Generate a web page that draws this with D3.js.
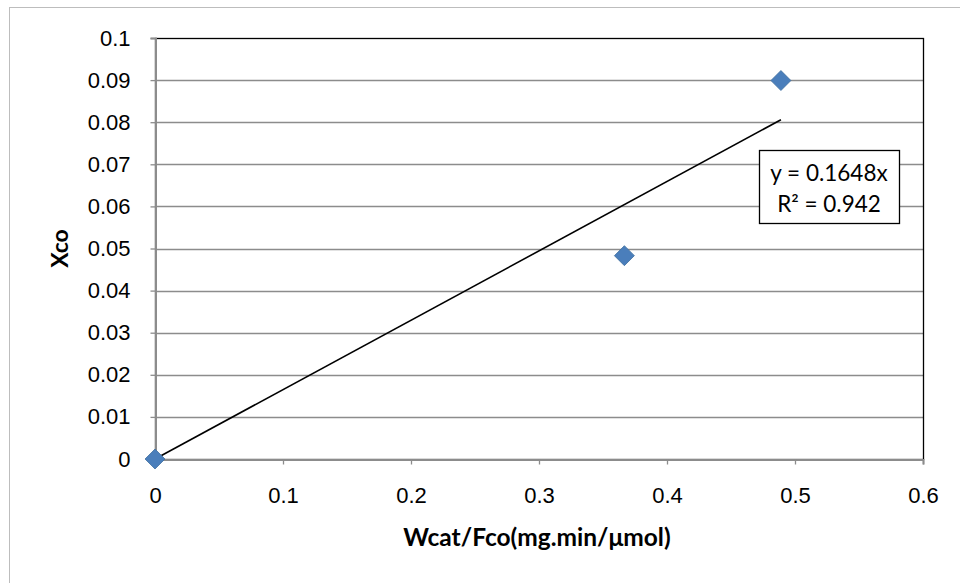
<!DOCTYPE html>
<html>
<head>
<meta charset="utf-8">
<script src="https://cdn.jsdelivr.net/npm/d3@7"></script>
<style>
  html, body { margin: 0; padding: 0; background: #fff; }
  svg { display: block; font-family: Lato, "Open Sans", "Liberation Sans", sans-serif; }
</style>
</head>
<body>
<svg id="chart" width="960" height="583"></svg>
<script>
// Measured conversion of CO versus catalyst weight / CO flow
const xValues = [0, 0.3667, 0.489];
const yValues = [0, 0.0483, 0.0899];
const xTicks = [0, 0.1, 0.2, 0.3, 0.4, 0.5, 0.6];
const yTicks = [0, 0.01, 0.02, 0.03, 0.04, 0.05, 0.06, 0.07, 0.08, 0.09, 0.1];
const slope = 0.1648;
const rSquared = 0.942;
const xTitle = "Wcat/Fco(mg.min/\u03BCmol)";
const yTitle = "Xco";

const svg = d3.select("#chart");
const plot = { left: 155, right: 923, top: 38, bottom: 459 };
const labelSize = 22;

const x = d3.scaleLinear().domain([0, 0.6]).range([plot.left, plot.right]);
const y = d3.scaleLinear().domain([0, 0.1]).range([plot.bottom, plot.top]);

// outer chart frame
svg.append("rect")
  .attr("x", 9.5).attr("y", 7.5)
  .attr("width", 1000).attr("height", 1000)
  .attr("fill", "none").attr("stroke", "#bdbdbd").attr("stroke-width", 1);

// horizontal gridlines
svg.append("g")
  .selectAll("line")
  .data(yTicks.slice(1, -1))
  .join("line")
  .attr("x1", plot.left).attr("x2", plot.right)
  .attr("y1", d => Math.round(y(d)) + 0.5).attr("y2", d => Math.round(y(d)) + 0.5)
  .attr("stroke", "#8c8c8c").attr("stroke-width", 1.3);

// plot area border (top / right)
svg.append("rect")
  .attr("x", plot.left + 0.5).attr("y", plot.top + 0.5)
  .attr("width", plot.right - plot.left).attr("height", plot.bottom - plot.top)
  .attr("fill", "none").attr("stroke", "#000").attr("stroke-width", 1.3);

// y axis
const yAxis = svg.append("g")
  .attr("transform", `translate(${plot.left + 0.5},0)`)
  .call(d3.axisLeft(y).tickValues(yTicks).tickSize(5).tickPadding(20)
    .tickFormat(d => d3.format("~g")(+d.toFixed(2))));
yAxis.select(".domain").attr("stroke", "#8c8c8c").attr("stroke-width", 2);
yAxis.selectAll(".tick line").attr("stroke", "#8c8c8c").attr("stroke-width", 1.3);
yAxis.selectAll(".tick text").attr("font-size", labelSize).attr("fill", "#000");

// x axis
const xAxis = svg.append("g")
  .attr("transform", `translate(0,${plot.bottom + 0.5})`)
  .call(d3.axisBottom(x).tickValues(xTicks).tickSize(5).tickPadding(23)
    .tickFormat(d => d3.format("~g")(+d.toFixed(1))));
xAxis.select(".domain").attr("stroke", "#8c8c8c").attr("stroke-width", 2);
xAxis.selectAll(".tick line").attr("stroke", "#8c8c8c").attr("stroke-width", 1.3);
xAxis.selectAll(".tick text").attr("font-size", labelSize).attr("fill", "#000");

// linear trendline through origin
const xMax = d3.max(xValues);
svg.append("line")
  .attr("x1", x(0)).attr("y1", y(0))
  .attr("x2", x(xMax)).attr("y2", y(slope * xMax))
  .attr("stroke", "#000").attr("stroke-width", 1.6);

// data markers (diamonds)
const points = xValues.map((v, i) => ({ x: v, y: yValues[i] }));
svg.append("g")
  .selectAll("path")
  .data(points)
  .join("path")
  .attr("transform", d => `translate(${x(d.x)},${y(d.y)})`)
  .attr("d", "M0,-10L10,0L0,10L-10,0Z")
  .attr("fill", "#4a7ebb")
  .attr("stroke", "#41709f").attr("stroke-width", 0.8);

// trendline equation label
const eq = svg.append("g");
eq.append("rect")
  .attr("x", 759.5).attr("y", 150.5).attr("width", 140).attr("height", 73)
  .attr("fill", "#fff").attr("stroke", "#000").attr("stroke-width", 1.3);
eq.append("text")
  .attr("x", 829).attr("y", 181)
  .attr("text-anchor", "middle").attr("font-size", 22.5)
  .text(`y = ${slope}x`);
eq.append("text")
  .attr("x", 829).attr("y", 212)
  .attr("text-anchor", "middle").attr("font-size", 22.5)
  .text(`R\u00B2 = ${rSquared}`);

// axis titles
svg.append("text")
  .attr("x", 537).attr("y", 546)
  .attr("text-anchor", "middle").attr("font-size", 24.5).attr("font-weight", "bold")
  .text(xTitle);
svg.append("text")
  .attr("transform", `translate(68,${(plot.top + plot.bottom) / 2}) rotate(-90)`)
  .attr("text-anchor", "middle").attr("font-size", 23).attr("font-weight", "bold")
  .text(yTitle);
</script>
</body>
</html>
